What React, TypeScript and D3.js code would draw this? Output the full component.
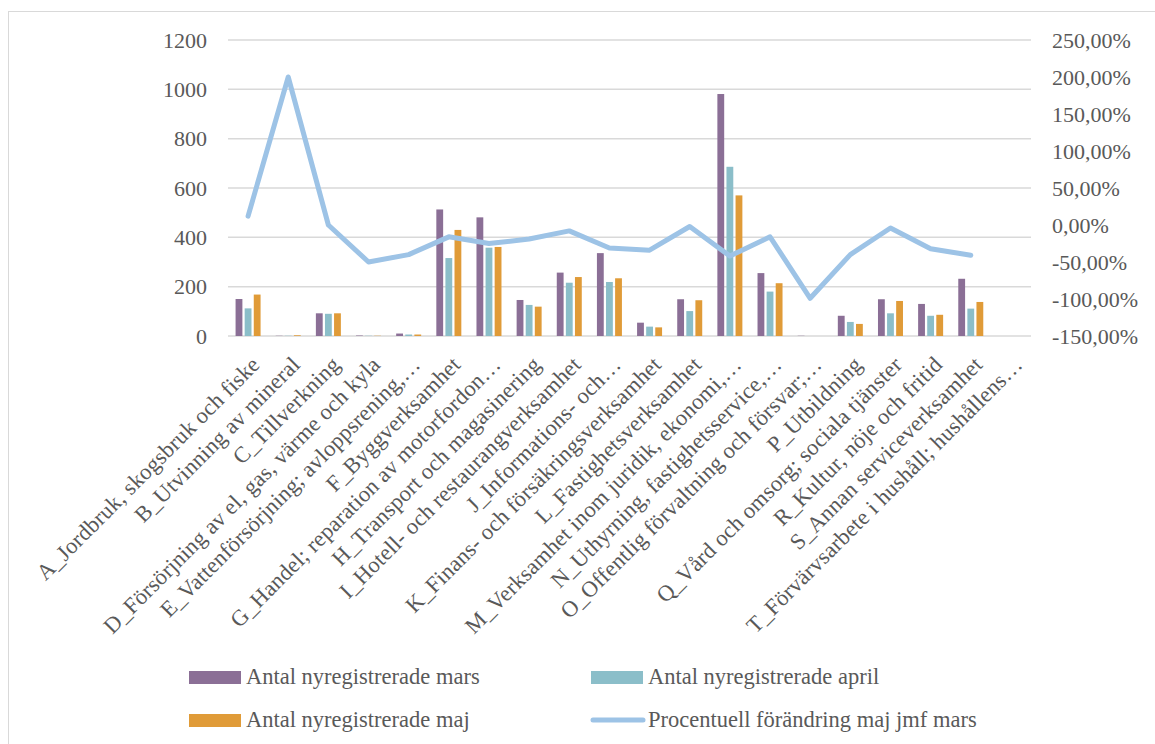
import React from 'react';
import * as d3 from 'd3';

const categories = [
  'A_Jordbruk, skogsbruk och fiske',
  'B_Utvinning av mineral',
  'C_Tillverkning',
  'D_Försörjning av el, gas, värme och kyla',
  'E_Vattenförsörjning; avloppsrening,…',
  'F_Byggverksamhet',
  'G_Handel; reparation av motorfordon…',
  'H_Transport och magasinering',
  'I_Hotell- och restaurangverksamhet',
  'J_Informations- och…',
  'K_Finans- och försäkringsverksamhet',
  'L_Fastighetsverksamhet',
  'M_Verksamhet inom juridik, ekonomi,…',
  'N_Uthyrning, fastighetsservice,…',
  'O_Offentlig förvaltning och försvar;…',
  'P_Utbildning',
  'Q_Vård och omsorg; sociala tjänster',
  'R_Kultur, nöje och fritid',
  'S_Annan serviceverksamhet',
  'T_Förvärvsarbete i hushåll; hushållens…',
];

const mars = [150, 1, 92, 2, 10, 513, 481, 146, 257, 336, 54, 149, 981, 255, 1, 82, 149, 130, 232, 0];
const april = [112, 1, 90, 1, 6, 316, 358, 126, 216, 219, 38, 101, 686, 180, 0, 57, 92, 82, 111, 0];
const maj = [168, 3, 92, 1, 6, 430, 361, 119, 239, 234, 35, 145, 570, 214, 0, 49, 142, 86, 138, 0];
const change: (number | null)[] = [12, 200, 0, -50, -40, -16, -25, -19, -8, -31, -34, -2, -42, -16, -99, -40, -4, -32, -41, null];

const leftTicks = [0, 200, 400, 600, 800, 1000, 1200];
const rightTicks = [-150, -100, -50, 0, 50, 100, 150, 200, 250];

const seriesNames = ['Antal nyregistrerade mars', 'Antal nyregistrerade april', 'Antal nyregistrerade maj'];
const lineName = 'Procentuell förändring maj jmf mars';
const colors = ['#8B6F96', '#8BBEC9', '#E09B38'];
const lineColor = '#9DC3E6';
const textColor = '#595959';
const font = '"Liberation Serif", "DejaVu Serif", serif';

export default function App() {
  const left = 228, right = 1031, top = 40, bottom = 336;

  const x = d3.scaleBand<number>().domain(d3.range(categories.length)).range([left, right]).padding(0);
  const inner = d3.scaleBand<number>().domain([0, 1, 2]).range([-12.5, 12.5]).paddingInner(0.25);
  const y = d3.scaleLinear().domain([0, 1200]).range([bottom, top]);
  const y2 = d3.scaleLinear().domain([-150, 250]).range([bottom, top]);

  const series = [mars, april, maj];
  const cx = (i: number) => (x(i) as number) + x.bandwidth() / 2;

  const line = d3.line<number | null>()
    .defined(d => d !== null)
    .x((_, i) => cx(i))
    .y(d => y2(d as number));

  const fmt = (v: number) => v.toFixed(2).replace('.', ',') + '%';

  const legend = [
    { label: seriesNames[0], color: colors[0], x: 189, y: 684, kind: 'bar' },
    { label: seriesNames[1], color: colors[1], x: 591, y: 684, kind: 'bar' },
    { label: seriesNames[2], color: colors[2], x: 189, y: 727, kind: 'bar' },
    { label: lineName, color: lineColor, x: 591, y: 727, kind: 'line' },
  ];

  return (
    <svg width={1155} height={744} style={{ position: 'absolute', left: 0, top: 0, background: '#fff' }}
      fontFamily={font}>
      <rect x={8.5} y={11.5} width={1160} height={760} fill="none" stroke="#D9D9D9" strokeWidth={1} />

      {/* gridlines */}
      {leftTicks.map(t => (
        <line key={t} x1={left} x2={right} y1={y(t)} y2={y(t)} stroke="#D9D9D9" strokeWidth={1.5} />
      ))}

      {/* left axis labels */}
      {leftTicks.map(t => (
        <text key={t} x={207} y={y(t)} dy="0.35em" textAnchor="end" fontSize={22} fill={textColor}>{t}</text>
      ))}

      {/* right axis labels */}
      {rightTicks.map(t => (
        <text key={t} x={1052} y={y2(t)} dy="0.35em" textAnchor="start" fontSize={22} fill={textColor}>{fmt(t)}</text>
      ))}

      {/* bars */}
      {series.map((s, si) => (
        <g key={si}>
          {s.map((v, i) => (
            <rect key={i}
              x={cx(i) + (inner(si) as number)}
              y={y(v)}
              width={inner.bandwidth()}
              height={bottom - y(v)}
              fill={colors[si]} />
          ))}
        </g>
      ))}

      {/* line */}
      <path d={line(change) || ''} fill="none" stroke={lineColor} strokeWidth={5}
        strokeLinejoin="round" strokeLinecap="round" />

      {/* category labels */}
      {categories.map((c, i) => (
        <text key={c} transform={`translate(${cx(i) + 13},366) rotate(-45)`} textAnchor="end"
          fontSize={22.5} letterSpacing={0.2} fill={textColor}>{c}</text>
      ))}

      {/* legend */}
      {legend.map(l => (
        <g key={l.label}>
          {l.kind === 'bar'
            ? <rect x={l.x} y={l.y - 13} width={52} height={13} fill={l.color} />
            : <line x1={l.x + 2} x2={l.x + 52} y1={l.y - 7} y2={l.y - 7} stroke={l.color} strokeWidth={5} strokeLinecap="round" />}
          <text x={l.x + 57} y={l.y} fontSize={22.5} fill={textColor}>{l.label}</text>
        </g>
      ))}
    </svg>
  );
}
